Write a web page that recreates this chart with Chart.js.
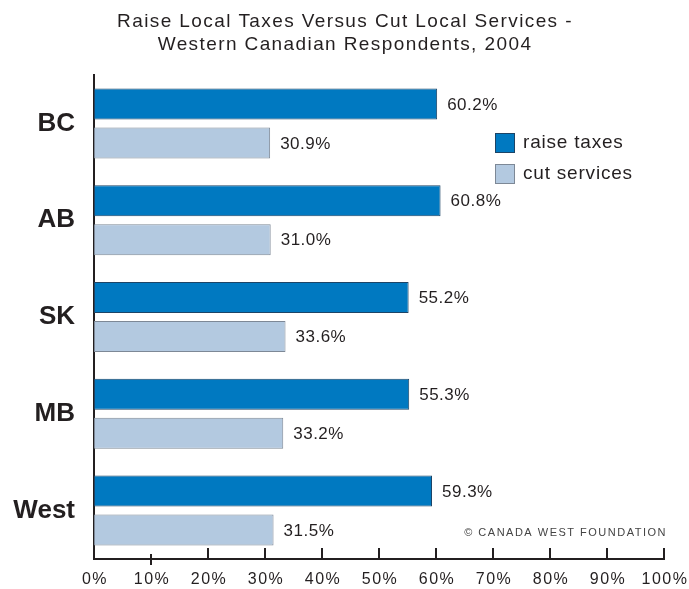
<!DOCTYPE html>
<html>
<head>
<meta charset="utf-8">
<title>Raise Local Taxes Versus Cut Local Services</title>
<script src="https://cdn.jsdelivr.net/npm/chart.js@4/dist/chart.umd.min.js"></script>
<style>
  html, body { margin: 0; padding: 0; background: #fff; }
  #wrap { width: 689px; height: 589px; position: relative; }
</style>
</head>
<body>
<div id="wrap"><canvas id="chart" width="689" height="589"></canvas></div>
<script>
const regions = ['BC', 'AB', 'SK', 'MB', 'West'];
const raiseTaxes = [60.2, 60.8, 55.2, 55.3, 59.3];
const cutServices = [30.9, 31.0, 33.6, 33.2, 31.5];
const xTicks = [0, 10, 20, 30, 40, 50, 60, 70, 80, 90, 100];
const titleLines = ['Raise Local Taxes Versus Cut Local Services -', 'Western Canadian Respondents, 2004'];
const credit = '\u00A9 CANADA WEST FOUNDATION';

const FONT = '"Liberation Sans", Arial, sans-serif';
const INK = '#231f20';

function spaced(c, px) {
    if ('letterSpacing' in c) c.letterSpacing = px + 'px';
}

// title, value labels, legend box, credit line, and the x axis ticks + labels
const decorations = {
    id: 'decorations',
    afterDraw(chart) {
        const c = chart.ctx;
        const xs = chart.scales.x;
        const area = chart.chartArea;
        c.save();

        // title
        c.fillStyle = INK;
        c.font = '19px ' + FONT;
        c.textAlign = 'center';
        c.textBaseline = 'middle';
        spaced(c, 1.4);
        c.fillText(titleLines[0], 345, 22);
        c.fillText(titleLines[1], 345, 45);

        // value labels next to each bar
        c.font = '17px ' + FONT;
        c.textAlign = 'left';
        spaced(c, 0.5);
        chart.data.datasets.forEach((ds, di) => {
            chart.getDatasetMeta(di).data.forEach((bar, i) => {
                c.fillText(ds.data[i].toFixed(1) + '%', bar.x + 10, bar.y + 1);
            });
        });

        // legend
        c.font = '19px ' + FONT;
        spaced(c, 0.8);
        chart.data.datasets.forEach((ds, di) => {
            const y = 133 + di * 31;
            c.fillStyle = ds.backgroundColor;
            c.fillRect(495, y, 20, 20);
            c.strokeStyle = ds.borderColor;
            c.lineWidth = 1;
            c.strokeRect(495.5, y + 0.5, 19, 19);
            c.fillStyle = INK;
            c.fillText(ds.label, 523, y + 10);
        });

        // credit
        c.font = '11px ' + FONT;
        c.fillStyle = '#444';
        c.textAlign = 'right';
        spaced(c, 1.5);
        c.fillText(credit, 667, 533);

        // tick marks point up from the axis (the 10% one straddles it)
        c.strokeStyle = INK;
        c.lineWidth = 2;
        xTicks.forEach(v => {
            const px = Math.round(xs.getPixelForValue(v));
            c.beginPath();
            if (v === 10) {
                c.moveTo(px, area.bottom - 5);
                c.lineTo(px, area.bottom + 6);
            } else {
                c.moveTo(px, area.bottom - 11);
                c.lineTo(px, area.bottom);
            }
            c.stroke();
        });

        // tick labels
        c.font = '16px ' + FONT;
        c.fillStyle = INK;
        c.textAlign = 'center';
        spaced(c, 1.5);
        xTicks.forEach(v => {
            c.fillText(v + '%', xs.getPixelForValue(v) + 1, area.bottom + 21);
        });
        c.restore();
    }
};

new Chart(document.getElementById('chart'), {
    type: 'bar',
    data: {
        labels: regions,
        datasets: [
            {
                label: 'raise taxes',
                data: raiseTaxes,
                backgroundColor: '#0079c1',
                borderColor: '#1d4466',
                borderWidth: 1,
                borderSkipped: false,
                categoryPercentage: 0.806,
                barPercentage: 0.795
            },
            {
                label: 'cut services',
                data: cutServices,
                backgroundColor: '#b3c9e0',
                borderColor: '#7d8896',
                borderWidth: 1,
                borderSkipped: false,
                categoryPercentage: 0.806,
                barPercentage: 0.795
            }
        ]
    },
    options: {
        indexAxis: 'y',
        responsive: false,
        animation: false,
        layout: { padding: { top: 75, right: 25, left: 0, bottom: 0 } },
        plugins: {
            legend: { display: false },
            title: { display: false },
            tooltip: { enabled: false }
        },
        scales: {
            x: {
                min: 0,
                max: 100,
                afterBuildTicks: axis => { axis.ticks = xTicks.map(v => ({ value: v })); },
                afterFit: axis => {
                    axis.height = 30;
                    axis.paddingLeft = 0;
                    axis.paddingRight = 0;
                },
                grid: { display: false, drawTicks: false },
                border: { display: true, color: INK, width: 2 },
                ticks: { display: false }
            },
            y: {
                afterFit: axis => {
                    axis.width = 94;
                    axis.paddingTop = 0;
                    axis.paddingBottom = 0;
                },
                grid: { display: false, drawTicks: false },
                border: { display: true, color: INK, width: 2 },
                ticks: {
                    padding: 19,
                    color: INK,
                    font: { family: FONT, size: 26, weight: 'bold' }
                }
            }
        }
    },
    plugins: [decorations]
});
</script>
</body>
</html>
